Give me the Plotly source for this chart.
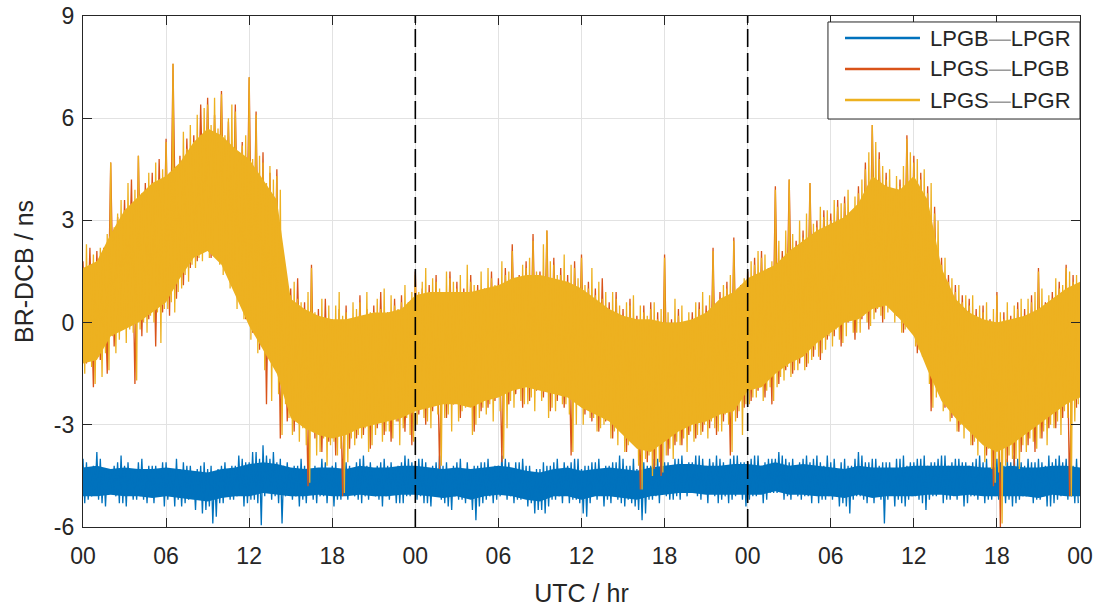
import numpy as np
import plotly.graph_objects as go

# BR-DCB samples (ns) over three UTC days.
# *_peaks: local highs at hh:00, :15, :30, :45; *_troughs: local lows 7.5 min after each high.
lpgb_lpgr_peaks_day1 = [
    -4.0, -4.1, -4.3, -4.2,  -3.8, -4.0, -4.3, -4.3,  -4.3, -4.2, -4.1, -3.9,  -4.2, -4.1, -4.4, -4.3,
    -4.1, -4.0, -4.3, -4.2,  -4.2, -4.2, -4.4, -4.1,  -4.1, -4.3, -4.3, -4.0,  -4.3, -4.1, -4.2, -4.2,
    -4.4, -4.3, -4.2, -4.1,  -4.3, -4.2, -4.4, -4.3,  -4.2, -4.1, -4.3, -4.2,  -4.2, -3.9, -4.0, -4.1,
    -4.1, -3.8, -3.8, -4.0,  -3.6, -3.9, -4.0, -3.8,  -4.1, -4.0, -4.2, -4.1,  -4.3, -4.2, -4.2, -4.0,
    -4.2, -4.1, -4.4, -4.2,  -4.3, -4.0, -4.1, -4.3,  -4.2, -4.1, -4.3, -4.0,  -4.1, -4.2, -4.4, -4.1,
    -4.0, -3.9, -4.2, -4.1,  -4.3, -4.2, -4.1, -4.0,  -4.2, -4.1, -4.3, -4.2,  -4.1, -3.9, -4.0, -4.1,
]
lpgb_lpgr_troughs_day1 = [
    -5.3, -5.2, -5.1, -5.0,  -5.2, -5.3, -5.4, -4.9,  -5.0, -5.1, -5.3, -5.3,  -5.4, -5.0, -5.2, -5.2,
    -5.1, -5.2, -5.3, -5.0,  -5.3, -5.1, -5.0, -5.4,  -5.2, -5.0, -5.4, -5.2,  -5.4, -5.3, -5.2, -5.1,
    -5.5, -5.2, -5.6, -5.5,  -5.4, -5.9, -5.7, -5.3,  -5.3, -5.1, -5.2, -5.2,  -5.1, -5.0, -5.4, -5.3,
    -5.2, -5.2, -5.3, -5.95, -5.1, -5.0, -5.2, -5.1,  -5.3, -5.9, -5.1, -5.0,  -5.2, -5.1, -5.4, -5.2,
    -5.3, -5.0, -5.2, -5.3,  -5.1, -5.1, -5.3, -4.9,  -5.4, -5.2, -5.2, -5.0,  -5.2, -5.0, -5.1, -5.2,
    -5.3, -5.1, -5.2, -5.0,  -5.1, -5.2, -5.4, -5.1,  -5.2, -5.0, -5.3, -5.3,  -5.3, -5.1, -5.1, -5.0,
]
lpgb_lpgr_peaks_day2 = [
    -4.2, -4.0, -4.0, -4.1,  -4.3, -4.2, -4.1, -3.9,  -4.2, -4.1, -4.4, -4.2,  -4.1, -4.0, -4.3, -4.1,
    -4.4, -4.2, -4.2, -4.1,  -4.1, -4.0, -4.3, -4.2,  -4.2, -3.9, -4.0, -4.1,  -4.3, -4.1, -4.1, -4.0,
    -4.2, -4.2, -4.4, -4.3,  -4.3, -4.1, -4.2, -4.2,  -4.1, -4.0, -4.3, -4.1,  -4.2, -4.1, -4.0, -4.0,
    -4.3, -4.2, -4.2, -4.1,  -4.1, -4.0, -4.3, -4.2,  -4.2, -4.1, -4.1, -3.9,  -4.0, -4.2, -4.2, -4.0,
    -4.3, -4.1, -4.1, -4.2,  -4.2, -4.0, -4.0, -3.9,  -4.1, -4.1, -4.3, -4.0,  -4.0, -3.9, -4.2, -4.1,
    -4.1, -3.9, -3.9, -4.0,  -4.2, -4.0, -4.1, -3.9,  -4.0, -4.1, -4.2, -4.0,  -3.9, -3.9, -4.1, -4.1,
]
lpgb_lpgr_troughs_day2 = [
    -5.2, -5.1, -5.3, -5.3,  -5.4, -5.0, -5.1, -5.2,  -5.3, -5.4, -5.5, -5.1,  -5.2, -5.2, -5.3, -5.0,
    -5.5, -5.8, -5.4, -5.3,  -5.2, -5.1, -5.3, -5.2,  -5.1, -5.0, -5.2, -5.1,  -5.3, -5.2, -5.2, -5.0,
    -5.4, -5.3, -5.6, -5.5,  -5.5, -5.6, -5.4, -5.2,  -5.2, -5.1, -5.3, -5.0,  -5.3, -5.2, -5.2, -5.3,
    -5.6, -5.7, -5.3, -5.1,  -5.2, -5.0, -5.4, -5.2,  -5.3, -5.1, -5.2, -5.3,  -5.4, -5.2, -5.3, -5.4,
    -5.5, -5.8, -5.6, -5.2,  -5.2, -5.1, -5.3, -5.0,  -5.1, -5.2, -5.2, -5.1,  -5.2, -5.0, -5.1, -4.9,
    -5.0, -5.1, -5.2, -5.0,  -5.3, -5.0, -5.1, -5.3,  -5.2, -5.1, -5.3, -5.2,  -5.1, -5.0, -5.2, -5.4,
]
lpgb_lpgr_peaks_day3 = [
    -4.1, -4.0, -3.9, -3.9,  -4.2, -4.1, -4.0, -4.0,  -4.0, -3.8, -3.9, -4.0,  -4.1, -4.0, -4.2, -4.1,
    -4.0, -3.9, -4.1, -4.0,  -3.9, -4.1, -4.2, -3.9,  -4.1, -4.0, -4.3, -4.1,  -4.0, -4.2, -4.2, -4.0,
    -3.8, -3.9, -4.1, -4.1,  -4.0, -4.0, -4.2, -4.1,  -4.1, -4.1, -4.3, -4.0,  -4.0, -3.9, -4.2, -4.1,
    -4.1, -4.0, -4.0, -3.9,  -4.2, -4.1, -4.1, -4.0,  -3.9, -3.9, -4.2, -4.1,  -4.0, -4.0, -4.1, -4.1,
    -4.2, -4.1, -4.0, -3.9,  -4.1, -4.0, -4.3, -4.1,  -4.0, -4.1, -4.2, -4.0,  -4.1, -3.9, -4.0, -4.1,
    -4.2, -4.0, -4.1, -4.1,  -4.0, -4.1, -4.2, -3.9,  -4.1, -4.0, -3.9, -4.1,  -4.0, -3.9, -4.2, -4.0,
]
lpgb_lpgr_troughs_day3 = [
    -5.2, -5.1, -5.1, -5.0,  -5.3, -5.2, -5.0, -5.0,  -5.0, -4.9, -5.2, -5.1,  -5.2, -5.0, -5.1, -5.2,
    -5.1, -5.1, -5.3, -5.0,  -5.3, -5.2, -5.2, -5.1,  -5.2, -5.0, -5.4, -5.3,  -5.4, -5.6, -5.2, -5.1,
    -5.1, -5.2, -5.3, -5.0,  -5.3, -5.1, -5.2, -5.9,  -5.2, -5.0, -5.4, -5.2,  -5.3, -5.4, -5.2, -5.1,
    -5.1, -5.2, -5.3, -5.5,  -5.2, -5.1, -5.1, -5.0,  -5.3, -5.2, -5.2, -5.1,  -5.2, -5.0, -5.4, -5.3,
    -5.1, -5.1, -5.2, -5.0,  -5.3, -5.2, -5.2, -5.1,  -5.2, -5.0, -5.3, -5.2,  -5.4, -5.3, -5.2, -5.1,
    -5.1, -5.0, -5.3, -5.2,  -5.2, -5.1, -5.4, -5.4,  -5.3, -5.2, -5.1, -5.0,  -5.2, -5.1, -5.3, -5.3,
]

# LPGS-LPGB: alternating highs/lows every 15 min (hh:00 high, hh:15 low, ...)
lpgs_lpgb_day1 = [
    1.8, -1.2, 2.2, -1.9,  2.1, -1.1, 2.2, -1.5,  4.7, -0.7, 3.1, -0.2,  3.6, 0.0, 4.2, -1.8,
    4.9, -0.4, 4.1, 0.1,   4.4, -0.7, 4.8, 0.3,   5.4, 0.2, 7.6, 0.7,    4.9, 1.1, 5.4, 1.6,
    5.5, 1.8, 6.4, 2.1,    6.6, 1.9, 6.1, 2.7,    6.8, 1.6, 5.9, 1.2,    6.4, 0.7, 5.3, 0.1,
    7.2, -0.3, 6.2, -0.8,  5.0, -2.4, 4.4, -1.2,  4.5, -3.4, 1.5, -2.9,  1.0, -3.2, 1.3, -3.0,
    0.6, -4.8, 1.7, -3.4,  0.4, -3.8, 0.7, -3.5,  0.1, -3.9, 0.4, -5.1,  0.5, -3.7, 0.1, -3.4,
    0.8, -3.3, 0.4, -3.7,  0.5, -3.1, 0.9, -3.3,  0.3, -3.5, 0.7, -2.9,  0.8, -3.2, 0.6, -3.6,
]
lpgs_lpgb_day2 = [
    1.5, -2.7, 1.0, -3.0,  1.1, -2.6, 1.4, -4.3,  0.9, -2.8, 1.5, -2.4,  1.2, -2.8, 1.0, -2.3,
    1.4, -3.2, 1.1, -2.6,  1.0, -2.5, 1.5, -2.3,  1.3, -4.1, 1.6, -2.4,  2.3, -2.1, 1.4, -2.5,
    1.8, -2.3, 2.6, -2.0,  1.5, -2.2, 2.7, -2.6,  1.9, -2.3, 1.6, -2.5,  1.4, -3.9, 1.8, -2.4,
    2.0, -2.7, 1.2, -2.9,  1.0, -3.2, 1.3, -2.9,  0.6, -3.4, 0.9, -3.0,  0.4, -3.8, 0.7, -3.4,
    0.2, -4.9, 0.5, -4.1,  0.6, -4.3, 0.3, -4.5,  2.0, -3.9, 0.1, -3.6,  0.4, -3.6, 0.0, -3.3,
    0.3, -3.4, 0.6, -3.2,  0.5, -3.1, 2.2, -3.3,  0.9, -2.9, 1.2, -3.9,  2.5, -2.8, 1.1, -2.5,
]
lpgs_lpgb_day3 = [
    1.5, -2.3, 1.9, -2.0,  2.1, -2.2, 1.6, -2.4,  4.0, -1.8, 2.1, -1.4,  4.2, -1.5, 2.4, -1.2,
    2.7, -1.3, 4.1, -1.0,  3.0, -1.1, 3.3, -0.5,  3.2, -0.4, 3.6, -0.7,  3.7, 0.0, 3.1, -0.5,
    4.0, 0.1, 4.7, -0.2,   5.8, 0.3, 5.0, 0.0,    4.4, 0.9, 3.9, 0.2,    4.2, -0.3, 5.5, 0.1,
    4.9, -0.9, 4.4, -0.5,  4.0, -2.6, 3.4, -1.7,  1.9, -2.5, 1.4, -2.8,  1.1, -3.2, 0.8, -2.9,
    0.7, -3.6, 0.4, -3.3,  0.5, -3.9, 0.1, -4.8,  0.9, -6.0, 0.3, -4.1,  0.2, -4.2, 0.6, -3.8,
    0.4, -3.6, 0.8, -3.8,  1.6, -3.4, 0.6, -3.1,  0.9, -3.1, 1.2, -2.8,  1.7, -5.1, 1.4, -2.5,
]

lpgs_lpgr_peaks_day1 = [
    1.6, 2.3, 1.5, 2.0,  1.8, 2.2, 1.9, 2.6,  4.7, 2.8, 3.2, 3.6,  3.3, 4.1, 3.4, 3.9,
    4.9, 3.8, 3.9, 4.4,  4.1, 4.7, 4.2, 4.5,  5.3, 4.4, 7.6, 4.6,  4.8, 5.6, 5.1, 5.8,
    5.3, 6.1, 5.5, 6.3,  6.4, 5.8, 6.6, 5.7,  6.7, 5.5, 6.0, 6.4,  6.2, 5.0, 5.2, 5.5,
    7.2, 4.8, 6.1, 4.9,  4.7, 4.1, 4.6, 4.2,  4.3, 3.9, 1.2, 1.0,  0.8, 1.2, 0.7, 0.6,
    0.4, 0.9, 1.6, 0.3,  0.2, 0.7, 0.1, 0.5,  0.1, 0.5, 0.9, 0.2,  0.3, 0.1, 0.6, 0.4,
    0.6, 0.2, 0.9, 0.3,  0.3, 0.7, 0.4, 1.0,  0.3, 0.8, 0.5, 0.4,  0.6, 1.1, 0.5, 0.9,
]
lpgs_lpgr_troughs_day1 = [
    -1.5, -1.1, -1.3, -1.8,  -1.0, -1.6, -0.9, -1.4,  -0.4, -0.9, -0.5, -0.2,  -0.6, -0.2, -0.3, -1.7,
    -0.2, 0.0, -0.3, 0.2,    0.0, 0.3, -0.6, 0.4,     0.4, 0.6, 0.3, 0.9,      1.0, 1.4, 1.2, 1.7,
    1.6, 1.9, 1.8, 2.2,      1.9, 2.1, 2.9, 1.7,      1.4, 1.7, 1.0, 1.3,      0.4, 0.8, 0.1, 0.2,
    -0.5, -0.1, -0.9, -0.6,  -1.4, -0.9, -2.3, -1.1,  -2.1, -3.3, -2.4, -2.8,  -3.3, -2.9, -3.5, -3.1,
    -3.6, -4.7, -3.2, -3.9,  -3.8, -3.4, -4.2, -3.6,  -3.5, -3.9, -3.7, -5.0,  -4.1, -3.4, -3.6, -3.3,
    -3.4, -3.1, -3.8, -3.6,  -3.3, -2.9, -3.5, -3.2,  -3.2, -3.4, -2.9, -3.6,  -3.1, -2.8, -3.3, -3.5,
]
lpgs_lpgr_peaks_day2 = [
    1.4, 0.9, 1.2, 1.6,  0.9, 1.3, 1.2, 1.0,  0.7, 1.5, 1.3, 1.2,  1.0, 1.4, 0.8, 1.7,
    1.2, 1.1, 0.9, 1.5,  0.8, 1.6, 1.3, 1.1,  1.1, 1.8, 1.4, 1.5,  2.1, 1.3, 1.2, 1.7,
    1.6, 1.9, 2.4, 1.5,  1.3, 2.3, 2.7, 1.8,  1.7, 1.4, 1.4, 2.0,  1.2, 1.7, 1.6, 1.3,
    1.9, 1.1, 1.0, 1.6,  0.8, 1.2, 0.7, 0.9,  0.4, 0.9, 0.7, 0.5,  0.2, 0.6, 0.5, 0.8,
    0.0, 0.5, 0.3, 0.2,  0.4, 0.6, 0.1, 0.4,  1.9, 0.3, -0.1, 0.7, 0.2, 0.5, -0.2, 0.3,
    0.1, 0.6, 0.4, 0.9,  0.3, 0.8, 2.1, 0.5,  0.7, 1.1, 1.0, 1.4,  2.4, 1.0, 0.9, 1.3,
]
lpgs_lpgr_troughs_day2 = [
    -3.0, -2.5, -2.8, -2.9,  -3.1, -2.4, -2.7, -4.2,  -2.8, -2.7, -3.2, -2.3,  -2.9, -2.6, -2.5, -2.2,
    -3.3, -3.0, -2.8, -2.5,  -2.7, -2.4, -2.9, -2.1,  -2.6, -4.0, -3.1, -2.3,  -2.5, -1.9, -2.3, -2.4,
    -2.4, -2.2, -2.6, -1.8,  -2.3, -2.0, -2.8, -2.5,  -2.6, -2.1, -2.4, -2.4,  -2.7, -3.8, -3.0, -2.2,
    -3.0, -2.5, -2.8, -2.8,  -3.2, -3.1, -3.0, -2.7,  -3.4, -3.2, -3.6, -2.9,  -3.8, -3.6, -3.5, -3.3,
    -4.2, -4.9, -4.0, -3.9,  -4.5, -4.2, -4.1, -4.4,  -3.9, -3.7, -4.0, -3.5,  -3.6, -3.4, -3.8, -3.2,
    -3.5, -3.3, -3.3, -3.0,  -3.4, -2.9, -3.1, -3.2,  -3.2, -2.7, -3.0, -3.8,  -2.9, -2.6, -3.3, -2.4,
]
lpgs_lpgr_peaks_day3 = [
    1.3, 1.8, 1.7, 2.1,  1.9, 2.0, 1.4, 1.8,  3.9, 2.4, 1.9, 2.7,  4.2, 2.6, 2.2, 3.0,
    2.5, 3.2, 4.1, 2.9,  2.8, 3.4, 3.1, 3.3,  3.0, 3.6, 3.4, 3.5,  3.5, 3.9, 2.9, 3.7,
    3.8, 4.2, 4.5, 5.0,  5.8, 5.3, 4.8, 4.6,  4.2, 4.5, 3.7, 4.3,  4.0, 4.6, 5.4, 5.0,
    4.7, 4.8, 4.2, 4.5,  3.8, 4.1, 3.2, 3.0,  1.7, 1.9, 1.2, 1.3,  0.9, 1.1, 0.6, 0.8,
    0.5, 0.8, 0.2, 0.5,  0.3, 0.6, -0.1, 0.4, 0.8, 0.3, 0.1, 0.6,  0.0, 0.5, 0.4, 0.7,
    0.2, 0.7, 0.6, 0.9,  1.5, 1.0, 0.4, 0.8,  0.7, 1.3, 1.0, 1.1,  1.6, 1.5, 1.2, 1.4,
]
lpgs_lpgr_troughs_day3 = [
    -2.4, -2.2, -2.2, -1.8,  -2.3, -2.0, -1.9, -2.3,  -1.9, -1.6, -1.7, -1.3,  -1.6, -1.4, -1.4, -1.0,
    -1.4, -1.2, -1.1, -0.8,  -1.0, -0.9, -0.8, -0.4,  -0.7, -0.2, -0.5, -0.6,  -0.4, 0.1, -0.3, -0.3,
    -0.3, 0.2, 0.0, -0.1,    0.1, 0.4, 0.2, 0.1,      0.3, 1.0, 0.0, 0.3,      -0.3, -0.2, -0.1, 0.2,
    -0.7, -0.8, -1.0, -0.4,  -1.8, -2.5, -2.2, -1.5,  -2.6, -2.3, -2.9, -2.6,  -3.2, -3.0, -3.4, -2.8,
    -3.6, -3.5, -3.9, -3.2,  -4.1, -3.7, -4.3, -4.7,  -4.4, -5.9, -4.2, -3.9,  -4.0, -4.0, -4.3, -3.6,
    -3.8, -3.4, -3.5, -3.7,  -3.4, -3.2, -3.6, -3.0,  -3.1, -2.9, -3.3, -2.6,  -2.8, -5.1, -2.9, -2.4,
]

# dense-noise core of each band, hourly at 00..72 h (upper / lower bound, ns)
lpgb_lpgr_core_upper = [
    -4.25, -4.2, -4.3, -4.25, -4.3, -4.3, -4.25, -4.3, -4.35, -4.4, -4.3, -4.25,
    -4.15, -4.1, -4.15, -4.25, -4.3, -4.25, -4.25, -4.3, -4.2, -4.25, -4.25, -4.2,
    -4.2, -4.25, -4.3, -4.25, -4.3, -4.25, -4.2, -4.25, -4.35, -4.4, -4.3, -4.25,
    -4.35, -4.3, -4.25, -4.3, -4.35, -4.25, -4.2, -4.15, -4.15, -4.2, -4.2, -4.15,
    -4.15, -4.2, -4.1, -4.2, -4.15, -4.2, -4.25, -4.3, -4.2, -4.25, -4.25, -4.25,
    -4.2, -4.2, -4.2, -4.2, -4.2, -4.25, -4.25, -4.2, -4.25, -4.25, -4.2, -4.2, -4.25,
]
lpgb_lpgr_core_lower = [
    -5.1, -5.1, -5.05, -5.1, -5.1, -5.15, -5.1, -5.15, -5.2, -5.25, -5.15, -5.1,
    -5.1, -5.0, -5.05, -5.1, -5.1, -5.05, -5.1, -5.1, -5.05, -5.1, -5.1, -5.05,
    -5.05, -5.1, -5.15, -5.1, -5.2, -5.1, -5.05, -5.1, -5.2, -5.25, -5.1, -5.1,
    -5.2, -5.1, -5.1, -5.15, -5.2, -5.1, -5.05, -5.0, -5.0, -5.05, -5.05, -5.05,
    -5.05, -5.05, -4.95, -5.05, -5.05, -5.1, -5.1, -5.15, -5.05, -5.15, -5.1, -5.1,
    -5.1, -5.05, -5.05, -5.1, -5.05, -5.1, -5.1, -5.1, -5.1, -5.15, -5.05, -5.1, -5.1,
]
lpgs_lpgr_core_upper = [
    1.6, 1.8, 2.6, 3.3, 3.7, 4.1, 4.3, 4.7, 5.3, 5.7, 5.5, 5.1,
    4.8, 4.2, 3.6, 0.7, 0.4, 0.2, 0.1, 0.1, 0.2, 0.3, 0.3, 0.4,
    0.8, 0.9, 0.9, 0.9, 0.9, 1.0, 1.1, 1.3, 1.4, 1.4, 1.3, 1.2,
    1.0, 0.7, 0.4, 0.2, 0.1, 0.1, 0.0, 0.0, 0.1, 0.3, 0.7, 0.9,
    1.3, 1.5, 1.7, 2.1, 2.4, 2.7, 2.9, 3.1, 3.5, 4.3, 4.0, 3.9,
    4.3, 3.6, 1.6, 0.7, 0.3, 0.1, 0.0, 0.1, 0.2, 0.4, 0.7, 1.0, 1.2,
]
lpgs_lpgr_core_lower = [
    -1.2, -1.1, -0.4, -0.2, 0.0, 0.3, 0.6, 1.3, 1.9, 2.1, 1.7, 0.8,
    -0.1, -0.8, -1.5, -2.8, -3.1, -3.3, -3.4, -3.3, -3.1, -3.0, -2.9, -2.8,
    -2.6, -2.5, -2.4, -2.4, -2.5, -2.3, -2.2, -2.0, -1.9, -2.0, -2.1, -2.2,
    -2.5, -2.7, -2.9, -3.3, -3.7, -3.8, -3.5, -3.2, -3.0, -2.9, -2.7, -2.6,
    -2.0, -1.9, -1.5, -1.2, -1.0, -0.6, -0.3, 0.0, 0.1, 0.4, 0.5, 0.1,
    -0.4, -1.4, -2.3, -2.8, -3.2, -3.6, -3.8, -3.6, -3.3, -3.0, -2.7, -2.4, -2.2,
]


def in_time_order(peaks, troughs):
    """Each high followed by the low recorded 7.5 min later."""
    return [v for pair in zip(peaks, troughs) for v in pair]


series_names = ["LPGB\u2014LPGR", "LPGS\u2014LPGB", "LPGS\u2014LPGR"]
series_colors = ["#0072BD", "#D95319", "#EDB120"]
series_values = [
    in_time_order(lpgb_lpgr_peaks_day1 + lpgb_lpgr_peaks_day2 + lpgb_lpgr_peaks_day3,
                  lpgb_lpgr_troughs_day1 + lpgb_lpgr_troughs_day2 + lpgb_lpgr_troughs_day3),
    lpgs_lpgb_day1 + lpgs_lpgb_day2 + lpgs_lpgb_day3,
    in_time_order(lpgs_lpgr_peaks_day1 + lpgs_lpgr_peaks_day2 + lpgs_lpgr_peaks_day3,
                  lpgs_lpgr_troughs_day1 + lpgs_lpgr_troughs_day2 + lpgs_lpgr_troughs_day3),
]
series_cores = [
    (lpgb_lpgr_core_upper, lpgb_lpgr_core_lower),
    None,  # hidden beneath the LPGS-LPGR band
    (lpgs_lpgr_core_upper, lpgs_lpgr_core_lower),
]

x_tick_hours = [0, 6, 12, 18, 24, 30, 36, 42, 48, 54, 60, 66, 72]
x_tick_labels = ["00", "06", "12", "18", "00", "06", "12", "18", "00", "06", "12", "18", "00"]
y_tick_values = [-6, -3, 0, 3, 6, 9]
day_boundaries = [24, 48]

AXIS_COLOR = "#262626"
FONT = "Liberation Sans, Arial, Helvetica, sans-serif"

fig = go.Figure()
for name, color, values, core in zip(series_names, series_colors, series_values, series_cores):
    if core is not None:
        upper, lower = core
        core_hours = np.linspace(0, 72, len(upper))
        fig.add_trace(go.Scatter(
            x=np.concatenate([core_hours, core_hours[::-1]]),
            y=list(upper) + list(lower)[::-1],
            mode="lines", fill="toself", fillcolor=color,
            line=dict(width=0, color=color), hoverinfo="skip", showlegend=False,
        ))
    hours = np.arange(len(values)) * (72.0 / len(values))
    fig.add_trace(go.Scatter(
        x=hours, y=values, mode="lines", name=name,
        line=dict(color=color, width=1.3), showlegend=False,
    ))

# dashed separators between days
for d in day_boundaries:
    fig.add_shape(type="line", xref="x", yref="paper", x0=d, x1=d, y0=0, y1=1,
                  line=dict(color="black", width=1.6, dash="18px,6px"), layer="above")

# legend box drawn in paper coordinates
box = dict(x0=0.7472, x1=1.0, y0=0.7984, y1=0.9883)
fig.add_shape(type="rect", xref="paper", yref="paper", **box,
              line=dict(color=AXIS_COLOR, width=1), fillcolor="white", layer="above")
row_y = [0.9569, 0.8963, 0.8356]
for name, color, yy in zip(series_names, series_colors, row_y):
    fig.add_shape(type="line", xref="paper", yref="paper", x0=0.7643, x1=0.8395, y0=yy, y1=yy,
                  line=dict(color=color, width=2.5), layer="above")
    left, right = name.split("\u2014")
    fig.add_annotation(xref="paper", yref="paper", x=0.8475, y=yy, xanchor="left", yanchor="middle",
                       text=f"{left}<span style='color:#9a9a9a'>\u2014</span>{right}",
                       showarrow=False, font=dict(family=FONT, size=22, color=AXIS_COLOR))

axis_common = dict(
    showline=True, linecolor=AXIS_COLOR, linewidth=1.3, mirror="ticks",
    ticks="inside", ticklen=9, tickwidth=1.3, tickcolor=AXIS_COLOR,
    showgrid=True, gridcolor="#e2e2e2", gridwidth=1, zeroline=False,
    tickfont=dict(family=FONT, size=23, color=AXIS_COLOR),
)

fig.update_xaxes(range=[0, 72], tickmode="array", tickvals=x_tick_hours, ticktext=x_tick_labels,
                 ticklabelstandoff=8,
                 title=dict(text="UTC / hr", font=dict(family=FONT, size=25, color=AXIS_COLOR), standoff=16),
                 **axis_common)
fig.update_yaxes(range=[-6, 9], tickmode="array", tickvals=y_tick_values,
                 ticktext=[str(v) for v in y_tick_values], ticklabelstandoff=3,
                 title=dict(text="BR-DCB / ns", font=dict(family=FONT, size=25, color=AXIS_COLOR), standoff=13),
                 **axis_common)

fig.update_layout(
    width=1099, height=610,
    margin=dict(l=83, r=19, t=16, b=83, autoexpand=False),
    plot_bgcolor="white", paper_bgcolor="white",
    font=dict(family=FONT, color=AXIS_COLOR),
)

fig.write_html("out.html")
